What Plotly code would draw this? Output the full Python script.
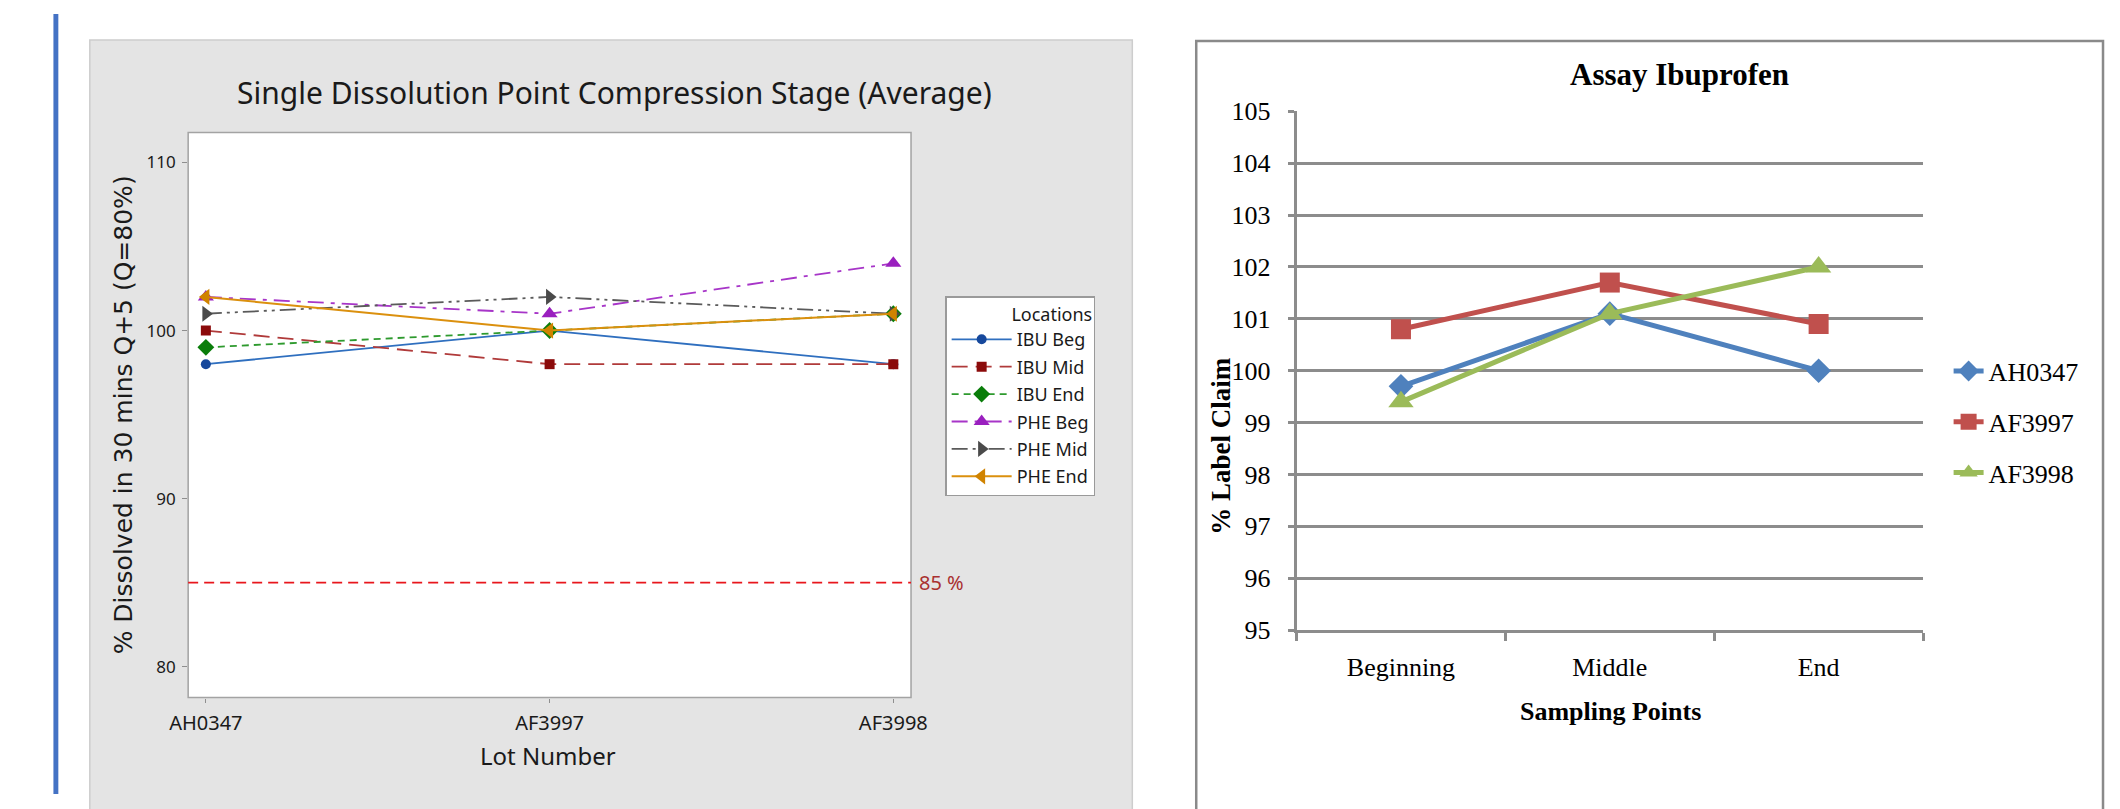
import plotly.graph_objects as go

# ---------------- Data: left chart (Minitab style) ----------------
lots = ["AH0347", "AF3997", "AF3998"]
ibu_beg = [98, 100, 98]
ibu_mid = [100, 98, 98]
ibu_end = [99, 100, 101]
phe_beg = [102, 101, 104]
phe_mid = [101, 102, 101]
phe_end = [102, 100, 101]
left_names = ["IBU Beg", "IBU Mid", "IBU End", "PHE Beg", "PHE Mid", "PHE End"]
left_yticks = [80, 90, 100, 110]
spec_limit = 85

# ---------------- Data: right chart (Excel style) ----------------
sampling_points = ["Beginning", "Middle", "End"]
ah0347 = [99.7, 101.1, 100.0]
af3997 = [100.8, 101.7, 100.9]
af3998 = [99.4, 101.1, 102.0]
right_names = ["AH0347", "AF3997", "AF3998"]
right_yticks = [95, 96, 97, 98, 99, 100, 101, 102, 103, 104, 105]

W, H = 2120, 809


def px(x):
    return x / W


def py(y):
    return 1 - y / H


LEFT_FONT = "Noto Sans"
SERIF = "Liberation Serif"

fig = go.Figure()

# ---- left traces ----
left_values = [ibu_beg, ibu_mid, ibu_end, phe_beg, phe_mid, phe_end]
left_styles = [
    dict(line=dict(color="#2F6FBF", width=1.8, dash="solid"),
         marker=dict(symbol="circle", size=10, color="#16489C")),
    dict(line=dict(color="#B03A3A", width=1.8, dash="16px,8px"),
         marker=dict(symbol="square", size=10, color="#8B0A0A")),
    dict(line=dict(color="#2E9A2E", width=1.8, dash="7px,5px"),
         marker=dict(symbol="diamond", size=13, color="#0A7D0A")),
    dict(line=dict(color="#A735C8", width=1.8, dash="16px,7px,4px,7px"),
         marker=dict(symbol="triangle-up", size=14, color="#9A1FBF")),
    dict(line=dict(color="#5A5A5A", width=1.8, dash="16px,5px,3px,5px,3px,5px"),
         marker=dict(symbol="triangle-right", size=14, color="#4A4A4A")),
    dict(line=dict(color="#DB900E", width=2.0, dash="solid"),
         marker=dict(symbol="triangle-left", size=14, color="#D08300")),
]
for i, (name, vals, st) in enumerate(zip(left_names, left_values, left_styles)):
    fig.add_trace(go.Scatter(
        x=lots, y=vals, name=name, mode="lines+markers",
        line=st["line"], marker=st["marker"],
        xaxis="x", yaxis="y", legend="legend", legendgroup=f"l{i}",
    ))

# ---- right traces ----
right_values = [ah0347, af3997, af3998]
right_colors = ["#4F81BD", "#C0504D", "#9BBB59"]
right_symbols = ["diamond", "square", "triangle-up"]
right_sizes = [19, 20, 22]
for i, (name, vals, c, s, sz) in enumerate(zip(right_names, right_values, right_colors,
                                                right_symbols, right_sizes)):
    fig.add_trace(go.Scatter(
        x=sampling_points, y=vals, name=name, mode="lines+markers",
        line=dict(color=c, width=5),
        marker=dict(symbol=s, size=sz, color=c),
        xaxis="x2", yaxis="y2", legend="legend2", legendgroup=f"g{i}",
    ))

shapes = [
    # blue page bar
    dict(type="rect", xref="paper", yref="paper", x0=px(35), x1=px(40), y0=0, y1=1,
         fillcolor="#4472C4", line=dict(width=0), layer="below"),
    # grey Minitab panel
    dict(type="rect", xref="paper", yref="paper", x0=px(72), x1=px(1132), y0=-0.05, y1=py(27),
         fillcolor="#E4E4E4", line=dict(color="#CDCDCD", width=1.5), layer="below"),
    # Excel chart frame
    dict(type="rect", xref="paper", yref="paper", x0=px(1197), x1=px(2119), y0=-0.05, y1=py(28),
         fillcolor="white", line=dict(color="#8A8A8A", width=2.5), layer="below"),
    # left plot area
    dict(type="rect", xref="x domain", yref="y domain", x0=0, x1=1, y0=0, y1=1,
         fillcolor="white", line=dict(color="#A3A3A3", width=1.5), layer="below"),
    # spec limit line
    dict(type="line", xref="x domain", yref="y", x0=0, x1=1, y0=spec_limit, y1=spec_limit,
         line=dict(color="#E8161C", width=1.6, dash="10px,6px"), layer="above"),
]

annotations = [
    dict(text="Single Dissolution Point Compression Stage (Average)", xref="paper", yref="paper",
         x=px(605), y=py(81), showarrow=False, xanchor="center", yanchor="middle",
         font=dict(family=LEFT_FONT, size=30, color="#1A1A1A")),
    dict(text="% Dissolved in 30 mins Q+5 (Q=80%)", xref="paper", yref="paper",
         x=px(106), y=py(416), showarrow=False, textangle=-90, xanchor="center", yanchor="middle",
         font=dict(family="DejaVu Sans", size=25, color="#1A1A1A")),
    dict(text="Lot Number", xref="paper", yref="paper",
         x=px(538), y=py(769), showarrow=False, xanchor="center", yanchor="middle",
         font=dict(family=LEFT_FONT, size=24, color="#1A1A1A")),
    dict(text=f"{spec_limit} %", xref="x domain", yref="y", x=1, y=spec_limit, xshift=6,
         showarrow=False, xanchor="left", yanchor="middle",
         font=dict(family=LEFT_FONT, size=20, color="#A93030")),
    dict(text="<b>Assay Ibuprofen</b>", xref="paper", yref="paper",
         x=px(1688), y=py(63), showarrow=False, xanchor="center", yanchor="middle",
         font=dict(family=SERIF, size=31, color="black")),
    dict(text="<b>% Label Claim</b>", xref="paper", yref="paper",
         x=px(1222), y=py(448), showarrow=False, textangle=-90, xanchor="center", yanchor="middle",
         font=dict(family=SERIF, size=27, color="black")),
    dict(text="<b>Sampling Points</b>", xref="paper", yref="paper",
         x=px(1618), y=py(723), showarrow=False, xanchor="center", yanchor="middle",
         font=dict(family=SERIF, size=26, color="black")),
]

fig.update_layout(
    width=W, height=H, autosize=False,
    margin=dict(l=0, r=0, t=0, b=0, pad=0),
    paper_bgcolor="white", plot_bgcolor="rgba(0,0,0,0)",
    showlegend=True,
    shapes=shapes, annotations=annotations,
    xaxis=dict(domain=[px(172), px(907)], type="category", range=[-0.0515, 2.0515],
               showgrid=False, zeroline=False, showline=False,
               ticks="outside", ticklen=4, tickcolor="#8E8E8E", tickwidth=1.2,
               ticklabelstandoff=3,
               tickfont=dict(family=LEFT_FONT, size=20, color="#1A1A1A"), anchor="y"),
    yaxis=dict(domain=[py(709), py(123)], range=[78.16, 111.78],
               tickvals=left_yticks, showgrid=False, zeroline=False, showline=False,
               ticks="outside", ticklen=5, tickcolor="#8E8E8E", tickwidth=1.2,
               ticklabelstandoff=3,
               tickfont=dict(family=LEFT_FONT, size=17, color="#1A1A1A"), anchor="x"),
    xaxis2=dict(domain=[px(1299), px(1936)], type="category", range=[-0.5, 2.5],
                tickson="boundaries", ticks="outside", ticklen=8, tickwidth=2.5,
                tickcolor="#8C8C8C", showgrid=False, zeroline=False,
                showline=True, linecolor="#8C8C8C", linewidth=2.5,
                ticklabelstandoff=12,
                tickfont=dict(family=SERIF, size=26, color="black"), anchor="y2"),
    yaxis2=dict(domain=[py(639), py(101)], range=[95, 105], tickvals=right_yticks,
                showgrid=True, gridcolor="#8C8C8C", gridwidth=2.5, zeroline=False,
                showline=True, linecolor="#8C8C8C", linewidth=2.5,
                ticks="outside", ticklen=6, tickwidth=2.5, tickcolor="#8C8C8C",
                ticklabelstandoff=12,
                tickfont=dict(family=SERIF, size=26, color="black"), anchor="x2"),
    legend=dict(x=px(942), y=py(293), xanchor="left", yanchor="top",
                bgcolor="white", bordercolor="#9A9A9A", borderwidth=1.2,
                itemwidth=60,
                title=dict(text="Locations", side="top right",
                           font=dict(family=LEFT_FONT, size=18, color="#1A1A1A")),
                font=dict(family=LEFT_FONT, size=18, color="#1A1A1A"),
                tracegroupgap=1),
    legend2=dict(x=px(1962), y=py(346), xanchor="left", yanchor="top",
                 bgcolor="rgba(0,0,0,0)", borderwidth=0,
                 font=dict(family=SERIF, size=26, color="black"),
                 tracegroupgap=14),
)

fig.write_html("out.html", config={"displayModeBar": False},
               post_script="document.body.style.margin='0';document.body.style.overflow='hidden';")
